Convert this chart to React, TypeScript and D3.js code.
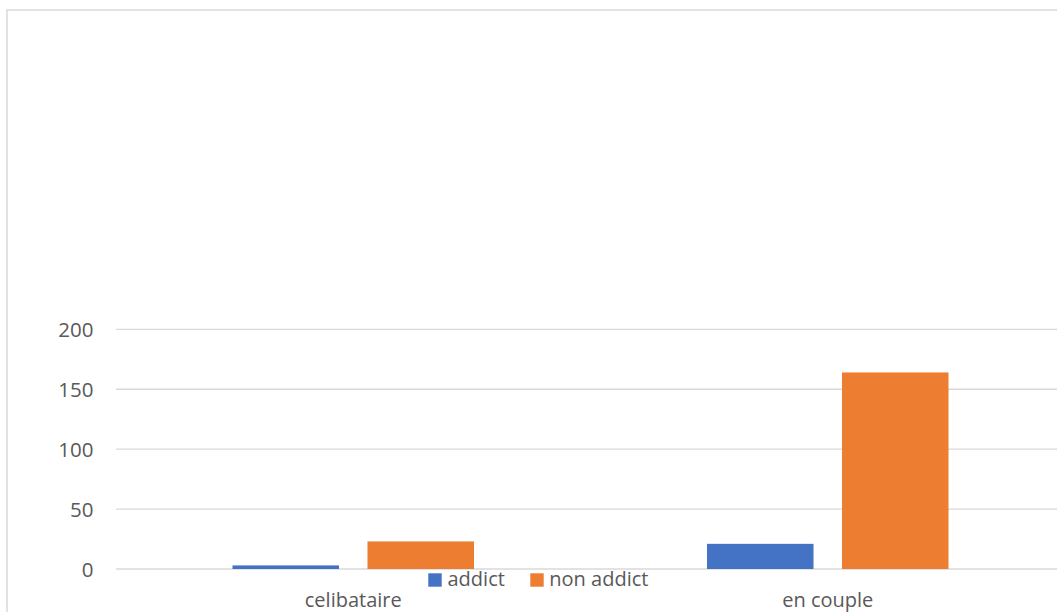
import React from "react";
import * as d3 from "d3";

const categories = ["celibataire", "en couple"];
const seriesNames = ["addict", "non addict"];
const addictValues = [3, 21];
const nonAddictValues = [23, 164];
const yTicks = [0, 50, 100, 150, 200];
const colors = ["#4472C4", "#ED7D31"];

const W = 1057;
const H = 612;
const plot = { left: 116, right: 1065, top: 329.3, bottom: 569 };
const FONT = "'Open Sans', 'Noto Sans', sans-serif";
const TEXT = "#595959";
const GRID = "#d9d9d9";

export default function App() {
  const x0 = d3
    .scaleBand<string>()
    .domain(categories)
    .range([plot.left, plot.right])
    .paddingInner(0)
    .paddingOuter(0);
  const x1 = d3
    .scaleBand<string>()
    .domain(seriesNames)
    .range([116.5, x0.bandwidth() - 116.5])
    .paddingInner(0.211);
  const y = d3.scaleLinear().domain([0, 200]).range([plot.bottom, plot.top]);
  const series = [addictValues, nonAddictValues];

  return (
    <svg
      width={W}
      height={H}
      style={{ position: "absolute", left: 0, top: 0, background: "#fff" }}
      fontFamily={FONT}
    >
      {/* chart area border */}
      <rect x={7} y={10} width={W + 10} height={H + 10} fill="none" stroke={GRID} strokeWidth={1.5} />

      {/* value gridlines and labels */}
      {yTicks.map((t) => (
        <g key={t}>
          <line x1={plot.left} x2={plot.right} y1={y(t)} y2={y(t)} stroke={GRID} strokeWidth={1.3} />
          <text x={93.5} y={y(t) + 7.5} textAnchor="end" fontSize={20.5} fill={TEXT}>
            {t}
          </text>
        </g>
      ))}

      {/* grouped bars */}
      {categories.map((c, ci) => (
        <g key={c} transform={`translate(${x0(c)},0)`}>
          {seriesNames.map((s, si) => {
            const v = series[si][ci];
            return (
              <rect
                key={s}
                x={x1(s)}
                y={y(v)}
                width={x1.bandwidth()}
                height={y(0) - y(v)}
                fill={colors[si]}
              />
            );
          })}
        </g>
      ))}

      {/* category labels */}
      {categories.map((c) => (
        <text
          key={c}
          x={(x0(c) as number) + x0.bandwidth() / 2}
          y={607}
          textAnchor="middle"
          fontSize={20}
          fill={TEXT}
        >
          {c}
        </text>
      ))}

      {/* legend */}
      <g>
        <rect x={428.3} y={573.3} width={13.4} height={13.4} fill={colors[0]} />
        <text x={447.5} y={585.5} fontSize={20} fill={TEXT}>
          {seriesNames[0]}
        </text>
        <rect x={530.3} y={573.3} width={13.4} height={13.4} fill={colors[1]} />
        <text x={549.3} y={585.5} fontSize={20} fill={TEXT}>
          {seriesNames[1]}
        </text>
      </g>
    </svg>
  );
}
